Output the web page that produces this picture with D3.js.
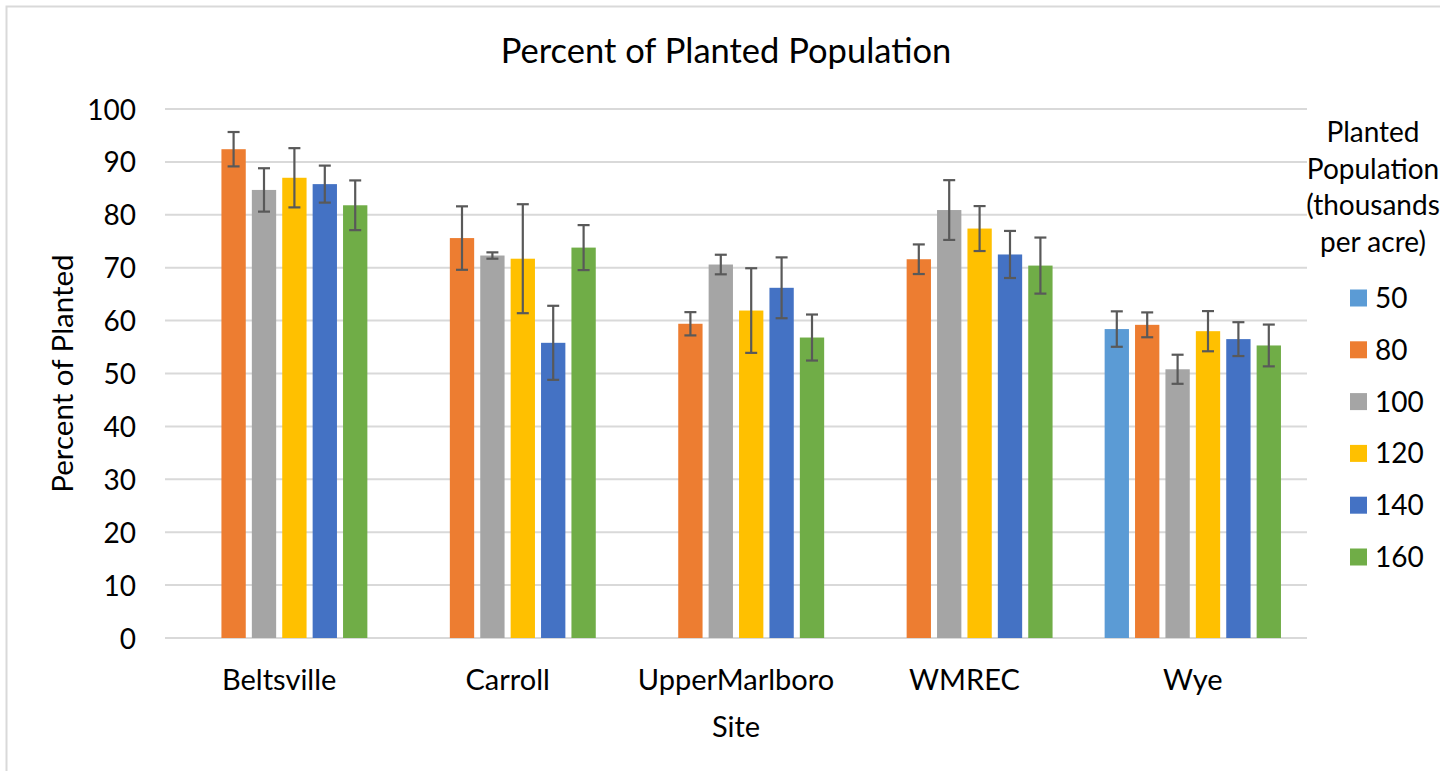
<!DOCTYPE html>
<html><head><meta charset="utf-8">
<script src="https://cdn.jsdelivr.net/npm/d3@7"></script>
<style>body{margin:0;background:#fff;overflow:hidden}svg{display:block}text{font-family:Lato,"Open Sans",sans-serif;fill:#000}</style>
</head><body>
<svg id="c" width="1440" height="771"></svg>
<script>
const sites = ["Beltsville","Carroll","UpperMarlboro","WMREC","Wye"];
const seriesNames = ["50","80","100","120","140","160"];
const seriesColors = ["#5b9bd5","#ed7d31","#a5a5a5","#ffc000","#4472c4","#70ad47"];
// values per series, aligned with sites (null = no bar)
const v50  = [null, null, null, null, 58.4];
const v80  = [92.4, 75.6, 59.4, 71.6, 59.2];
const v100 = [84.7, 72.3, 70.6, 80.9, 50.8];
const v120 = [87.0, 71.7, 61.9, 77.4, 58.0];
const v140 = [85.8, 55.8, 66.2, 72.5, 56.5];
const v160 = [81.8, 73.8, 56.8, 70.4, 55.3];
// error bar half-widths
const e50  = [null, null, null, null, 3.35];
const e80  = [3.25, 6.0, 2.2, 2.8, 2.35];
const e100 = [4.1, 0.6, 1.85, 5.65, 2.75];
const e120 = [5.6, 10.3, 8.0, 4.25, 3.8];
const e140 = [3.5, 7.0, 5.75, 4.45, 3.2];
const e160 = [4.7, 4.25, 4.35, 5.3, 3.95];
const yTicks = [0,10,20,30,40,50,60,70,80,90,100];
const chartTitle = "Percent of Planted Population";
const xTitle = "Site";
const yTitle = "Percent of Planted";
const legendTitle = ["Planted","Population","(thousands","per acre)"];

const values = [v50,v80,v100,v120,v140,v160];
const errors = [e50,e80,e100,e120,e140,e160];
const FONT = "Lato, 'Open Sans', sans-serif";

const svg = d3.select("#c");
// frame
svg.append("path").attr("d","M6.5,771 L6.5,6.5 L1440,6.5").attr("fill","none").attr("stroke","#d9d9d9").attr("stroke-width",2);

const m = {l:165, r:1307, t:109, b:638};
const x0 = d3.scaleBand().domain(sites).range([m.l,m.r]).paddingInner(0.228).paddingOuter(0.114);
const x1 = d3.scaleBand().domain(seriesNames).range([0,x0.bandwidth()]).paddingInner(0.2).paddingOuter(0);
const y = d3.scaleLinear().domain([0,100]).range([m.b,m.t]);

// gridlines
svg.append("g").selectAll("line").data(yTicks).join("line")
  .attr("x1",m.l).attr("x2",m.r).attr("y1",d=>y(d)).attr("y2",d=>y(d))
  .attr("stroke","#d9d9d9").attr("stroke-width",2);

// y axis labels
const yAxis = d3.axisLeft(y).tickValues(yTicks).tickSize(0).tickPadding(0);
const ya = svg.append("g").attr("transform",`translate(${m.l-29},0)`).call(yAxis);
ya.select(".domain").remove();
ya.selectAll("text").style("font-size","28px").style("font-family",FONT).attr("fill","#000").attr("dy","0.36em");

// bars
const data = [];
sites.forEach((s,i)=>seriesNames.forEach((n,j)=>{
  if(values[j][i]!=null) data.push({site:s,ser:n,v:values[j][i],e:errors[j][i],c:seriesColors[j]});
}));
const g = svg.append("g");
g.selectAll("rect").data(data).join("rect")
  .attr("x",d=>x0(d.site)+x1(d.ser)).attr("width",x1.bandwidth())
  .attr("y",d=>y(d.v)).attr("height",d=>y(0)-y(d.v))
  .attr("fill",d=>d.c);

// error bars
const eg = svg.append("g").attr("stroke","#595959").attr("stroke-width",2.2);
data.forEach(d=>{
  const cx = x0(d.site)+x1(d.ser)+x1.bandwidth()/2;
  eg.append("line").attr("x1",cx).attr("x2",cx).attr("y1",y(d.v+d.e)).attr("y2",y(d.v-d.e));
  eg.append("line").attr("x1",cx-6).attr("x2",cx+6).attr("y1",y(d.v+d.e)).attr("y2",y(d.v+d.e));
  eg.append("line").attr("x1",cx-6).attr("x2",cx+6).attr("y1",y(d.v-d.e)).attr("y2",y(d.v-d.e));
});

// x axis labels
const xAxis = d3.axisBottom(x0).tickSize(0).tickPadding(0);
const xa = svg.append("g").attr("transform",`translate(0,${m.b+42})`).call(xAxis);
xa.select(".domain").remove();
xa.selectAll("text").style("font-size","29px").style("font-family",FONT).attr("fill","#000").attr("dy","0.36em");

// titles
svg.append("text").attr("x",726).attr("y",63).attr("text-anchor","middle").style("font-size","34.5px").text(chartTitle);
svg.append("text").attr("x",736).attr("y",737).attr("text-anchor","middle").style("font-size","29px").text(xTitle);
svg.append("text").attr("transform",`translate(73,${(m.t+m.b)/2}) rotate(-90)`).attr("text-anchor","middle").style("font-size","29.5px").text(yTitle);

// legend
const lt = svg.append("text").attr("text-anchor","middle").style("font-size","28px");
legendTitle.forEach((t,i)=>lt.append("tspan").attr("x",1373).attr("y",142+i*36.5).text(t));
const lg = svg.append("g").selectAll("g").data(seriesNames).join("g")
  .attr("transform",(d,i)=>`translate(1350,${298+i*51.8})`);
lg.append("rect").attr("x",0).attr("y",-8.5).attr("width",17).attr("height",17).attr("fill",(d,i)=>seriesColors[i]);
lg.append("text").attr("x",25).attr("y",0).attr("dy","0.36em").style("font-size","28px").text(d=>d);
</script>
</body></html>
